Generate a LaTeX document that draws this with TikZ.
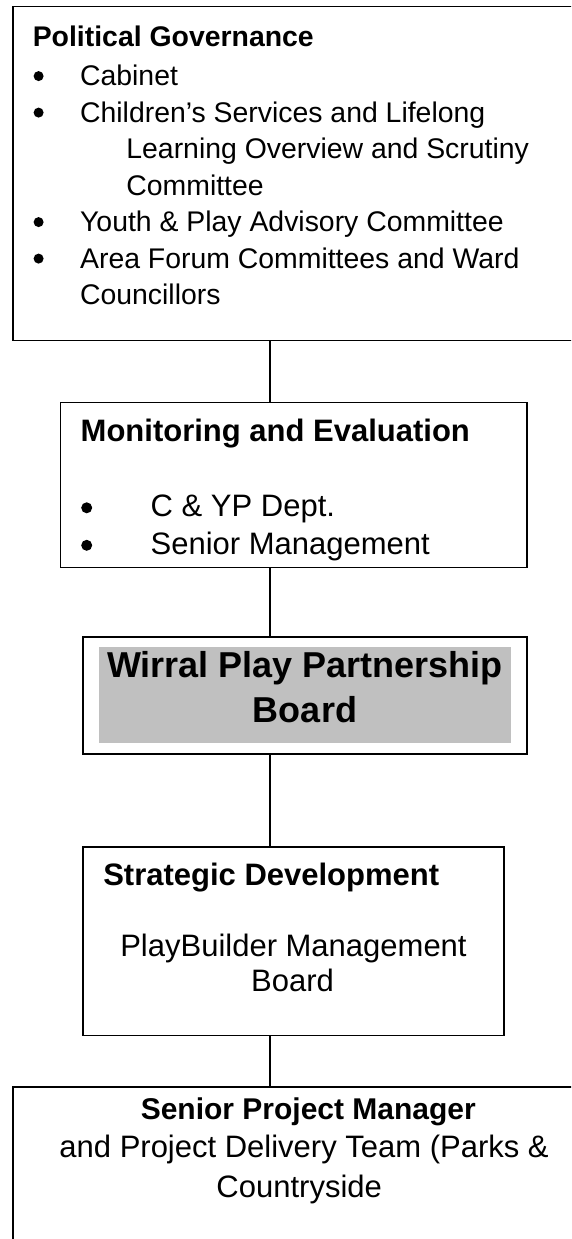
\documentclass[tikz,border=0pt]{standalone}
\usepackage{fontspec}
\setmainfont{Liberation Sans}
\begin{document}
\begin{tikzpicture}[x=1pt,y=-1pt,
  box/.style={draw, line width=1.4pt, inner sep=0pt, outer sep=0pt, anchor=north west},
  lbl/.style={inner sep=0pt, outer sep=0pt, anchor=base west},
  ctr/.style={inner sep=0pt, outer sep=0pt, anchor=base},
  dotA/.style={circle, fill=black, inner sep=0pt, outer sep=0pt, minimum size=10pt},
  dotB/.style={circle, fill=black, inner sep=0pt, outer sep=0pt, minimum size=11pt},
  link/.style={line width=1.4pt},
  fA/.style={font=\fontsize{28.4}{36}\selectfont},
  fAb/.style={font=\fontsize{28.4}{36}\selectfont\bfseries},
  fB/.style={font=\fontsize{31}{36}\selectfont},
  fBb/.style={font=\fontsize{31}{36}\selectfont\bfseries},
  fC/.style={font=\fontsize{31}{36}\selectfont},
  fCb/.style={font=\fontsize{30}{36}\selectfont\bfseries},
  fD/.style={font=\fontsize{36}{42}\selectfont\bfseries}]
\clip (0,0) rectangle (571,1239);
\fill[white] (0,0) rectangle (571,1239);

% boxes
\node[box, minimum width=620pt, minimum height=334pt] (pg) at (13,6.5) {};
\node[box, minimum width=466.5pt, minimum height=164.5pt] (me) at (60.5,402.7) {};
\node[box, minimum width=444pt, minimum height=117pt] (wp) at (83,637) {};
\node[inner sep=0pt, outer sep=0pt, anchor=north west, fill={rgb,255:red,192;green,192;blue,192},
      minimum width=412pt, minimum height=96pt] (wpfill) at (99,647) {};
\node[box, minimum width=421pt, minimum height=188.5pt] (sd) at (83,847) {};
\node[box, minimum width=620pt, minimum height=220pt] (pm) at (13,1087) {};

% connectors along the spine
\coordinate (spine) at (270,0);
\draw[link] (spine |- pg.south) -- (spine |- me.north);
\draw[link] (spine |- me.south) -- (spine |- wp.north);
\draw[link] (spine |- wp.south) -- (spine |- sd.north);
\draw[link] (spine |- sd.south) -- (spine |- pm.north);

% Political Governance
\node[lbl, fAb] (pgh) at (32.8,46.2) {Political Governance};
\node[dotA] (pgb1) at (38.6,76.1) {};
\node[lbl, fA] (pgt1) at (80.1,85.6) {Cabinet};
\node[dotA] (pgb2) at (38.6,112.6) {};
\node[lbl, fA] (pgt2) at (80.1,122.1) {Children’s Services and Lifelong};
\node[lbl, fA] (pgt2b) at (126.4,158.6) {Learning Overview and Scrutiny};
\node[lbl, fA] (pgt2c) at (126.4,195.1) {Committee};
\node[dotA] (pgb3) at (38.6,222.1) {};
\node[lbl, fA] (pgt3) at (80.1,231.6) {Youth \& Play Advisory Committee};
\node[dotA] (pgb4) at (38.6,258.6) {};
\node[lbl, fA] (pgt4) at (80.1,268.1) {Area Forum Committees and Ward};
\node[lbl, fA] (pgt4b) at (80.1,304.6) {Councillors};

% Monitoring and Evaluation
\node[lbl, fBb] (meh) at (80.7,441.7) {Monitoring and Evaluation};
\node[dotB] (meb1) at (86.7,507.8) {};
\node[lbl, fB] (met1) at (150.7,516.5) {C \& YP Dept.};
\node[dotB] (meb2) at (86.7,545.3) {};
\node[lbl, fB] (met2) at (150.7,554) {Senior Management};

% Wirral Play Partnership Board
\node[ctr, fD] (wpt1) at (305,677) {Wirral Play Partnership};
\node[ctr, fD] (wpt2) at (305,722.7) {Board};

% Strategic Development
\node[lbl, fBb] (sdh) at (103.3,885) {Strategic Development};
\node[ctr, fB] (sdt1) at (293.5,956.7) {PlayBuilder Management};
\node[ctr, fB] (sdt2) at (292.5,991.7) {Board};

% Senior Project Manager
\node[ctr, fCb] (pmh) at (308.3,1119.2) {Senior Project Manager};
\node[ctr, fC] (pmt1) at (304.1,1157.5) {and Project Delivery Team (Parks \&};
\node[ctr, fC] (pmt2) at (299.2,1197.5) {Countryside};
\end{tikzpicture}
\end{document}
